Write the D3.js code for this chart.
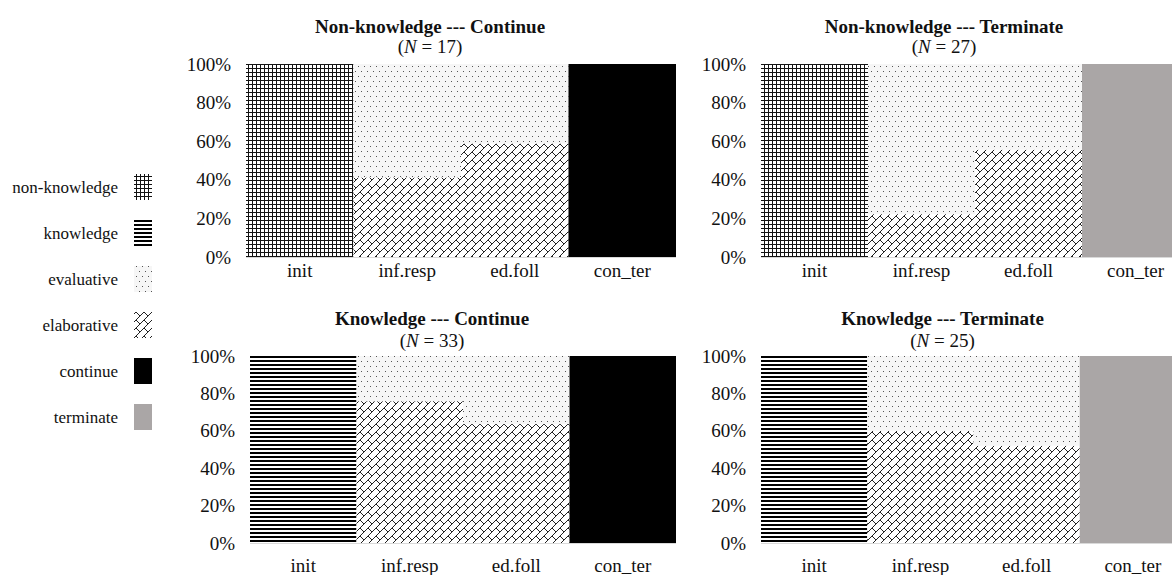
<!DOCTYPE html>
<html><head><meta charset="utf-8">
<script src="https://cdn.jsdelivr.net/npm/d3@7/dist/d3.min.js"></script>
<style>
html,body{margin:0;padding:0;background:#fff;overflow:hidden}
svg{display:block}
</style></head>
<body>
<script>
// ---- data ----
const categories = ["init", "inf.resp", "ed.foll", "con_ter"];
const panelTitles = ["Non-knowledge --- Continue", "Non-knowledge --- Terminate", "Knowledge --- Continue", "Knowledge --- Terminate"];
const panelN = [17, 27, 33, 25];
const initType = ["non-knowledge", "non-knowledge", "knowledge", "knowledge"];
const endType = ["continue", "terminate", "continue", "terminate"];
const elaborativeInfResp = [41.2, 22.2, 75.8, 60.0];
const elaborativeEdFoll = [58.8, 55.6, 63.6, 52.0];
const yTicks = [0, 20, 40, 60, 80, 100];
const legendItems = ["non-knowledge", "knowledge", "evaluative", "elaborative", "continue", "terminate"];

const FONT = "Liberation Serif, Tinos, Times New Roman, serif";
const W = 1172, H = 575;
const svg = d3.select("body").append("svg").attr("width", W).attr("height", H)
  .attr("font-family", FONT);
const defs = svg.append("defs");

// patterns
const pGrid = defs.append("pattern").attr("id", "p-non-knowledge").attr("patternUnits", "userSpaceOnUse").attr("width", 4).attr("height", 4);
pGrid.append("rect").attr("width", 4).attr("height", 4).attr("fill", "#fff");
pGrid.append("rect").attr("x", 0).attr("y", 0).attr("width", 4).attr("height", 1).attr("fill", "#111");
pGrid.append("rect").attr("x", 0).attr("y", 0).attr("width", 1).attr("height", 4).attr("fill", "#111");

const pHor = defs.append("pattern").attr("id", "p-knowledge").attr("patternUnits", "userSpaceOnUse").attr("width", 4).attr("height", 4);
pHor.append("rect").attr("width", 4).attr("height", 4).attr("fill", "#fff");
pHor.append("rect").attr("x", 0).attr("y", 0).attr("width", 4).attr("height", 2).attr("fill", "#000");

const pDot = defs.append("pattern").attr("id", "p-evaluative").attr("patternUnits", "userSpaceOnUse").attr("width", 6).attr("height", 10);
pDot.append("rect").attr("width", 6).attr("height", 10).attr("fill", "#f6f6f6");
pDot.append("rect").attr("x", 1).attr("y", 1).attr("width", 1).attr("height", 1).attr("fill", "#555");
pDot.append("rect").attr("x", 4).attr("y", 6).attr("width", 1).attr("height", 1).attr("fill", "#555");

const pBrick = defs.append("pattern").attr("id", "p-elaborative").attr("patternUnits", "userSpaceOnUse").attr("width", 8).attr("height", 8);
pBrick.append("rect").attr("width", 8).attr("height", 8).attr("fill", "#fff");
pBrick.append("path").attr("d", "M-1,9 L9,-1 M0,0 L4,4 M-1,1 L1,-1 M7,9 L9,7").attr("stroke", "#222").attr("stroke-width", 1).attr("fill", "none");

const fills = {
  "non-knowledge": "url(#p-non-knowledge)",
  "knowledge": "url(#p-knowledge)",
  "evaluative": "url(#p-evaluative)",
  "elaborative": "url(#p-elaborative)",
  "continue": "#000",
  "terminate": "#aaa6a6"
};

const panelsGeom = [
  {x0: 246, x1: 676, y0: 64, y1: 257, title: 33, sub: 53, xl: 277},
  {x0: 761, x1: 1189, y0: 64, y1: 257, title: 33, sub: 53, xl: 277},
  {x0: 250, x1: 676, y0: 356, y1: 543, title: 325, sub: 347, xl: 572},
  {x0: 761, x1: 1186, y0: 356, y1: 543, title: 325, sub: 347, xl: 572}
];

function txt(sel, size) {
  return sel.attr("font-family", FONT).attr("font-size", size).attr("fill", "#111");
}

panelsGeom.forEach((g, p) => {
  const x = d3.scaleBand().domain(categories).range([g.x0, g.x1]).padding(0);
  const y = d3.scaleLinear().domain([0, 100]).range([g.y1, g.y0]);
  const gp = svg.append("g");

  const stacks = [
    {cat: "init", segs: [{type: initType[p], v0: 0, v1: 100}]},
    {cat: "inf.resp", segs: [{type: "elaborative", v0: 0, v1: elaborativeInfResp[p]}, {type: "evaluative", v0: elaborativeInfResp[p], v1: 100}]},
    {cat: "ed.foll", segs: [{type: "elaborative", v0: 0, v1: elaborativeEdFoll[p]}, {type: "evaluative", v0: elaborativeEdFoll[p], v1: 100}]},
    {cat: "con_ter", segs: [{type: endType[p], v0: 0, v1: 100}]}
  ];
  stacks.forEach(s => {
    gp.selectAll(null).data(s.segs).enter().append("rect")
      .attr("x", x(s.cat)).attr("width", x.bandwidth())
      .attr("y", d => y(d.v1)).attr("height", d => y(d.v0) - y(d.v1))
      .attr("fill", d => fills[d.type]);
  });

  gp.append("line").attr("x1", g.x0).attr("x2", g.x1).attr("y1", y(0) + 0.5).attr("y2", y(0) + 0.5)
    .attr("stroke", "#d9d9d9").attr("stroke-width", 1);

  const ya = d3.axisLeft(y).tickValues(yTicks).tickFormat(d => d + "%").tickSize(0).tickPadding(15);
  const yg = gp.append("g").attr("transform", `translate(${g.x0},0)`).call(ya);
  yg.attr("font-family", FONT).attr("font-size", 19);
  yg.select(".domain").remove();
  txt(yg.selectAll("text"), 19);

  const xa = d3.axisBottom(x).tickSize(0).tickPadding(0);
  const xg = gp.append("g").attr("transform", `translate(0,${g.xl})`).call(xa);
  xg.attr("font-family", FONT).attr("font-size", 19);
  xg.select(".domain").remove();
  txt(xg.selectAll("text").attr("dy", 0).attr("y", 0), 19);

  const cx = (g.x0 - 62 + g.x1) / 2;
  txt(gp.append("text").attr("x", cx).attr("y", g.title).attr("text-anchor", "middle"), 19)
    .attr("font-weight", "bold").text(panelTitles[p]);
  const st = txt(gp.append("text").attr("x", cx).attr("y", g.sub).attr("text-anchor", "middle"), 19);
  st.append("tspan").text("(");
  st.append("tspan").attr("font-style", "italic").text("N");
  st.append("tspan").text(" = " + panelN[p] + ")");
});

// legend
const ly = d3.scalePoint().domain(legendItems).range([187, 417]);
const lg = svg.append("g");
legendItems.forEach(k => {
  txt(lg.append("text").attr("x", 118).attr("y", ly(k)).attr("dy", "0.35em").attr("text-anchor", "end"), 17).text(k);
  lg.append("rect").attr("x", 134).attr("y", ly(k) - 13).attr("width", 18).attr("height", 26).attr("fill", fills[k]);
});
</script>
</body></html>
